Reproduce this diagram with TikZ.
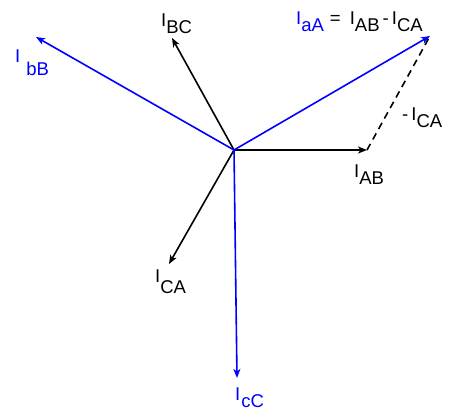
\documentclass[tikz,border=0pt]{standalone}
\usepackage{fontspec}
\setmainfont{Liberation Sans}
\usetikzlibrary{arrows.meta}
\newcommand{\Isub}[2][7pt]{I\raisebox{-#1}{#2}}
\tikzset{
  phasor/.style={line width=1.6pt, -{Stealth[length=9pt,width=7pt,inset=2.5pt]}},
  lbl/.style={inner sep=0pt, anchor=base west, font=\fontsize{18.5}{21}\selectfont}
}
\begin{document}
\begin{tikzpicture}[x=1pt,y=-1pt]
\useasboundingbox (0,0) rectangle (457,412);
% origin and phasor tips
\coordinate (o) at (234,150);
\coordinate (ab) at (367,150);
\coordinate (bc) at (172,38);
\coordinate (ca) at (169,264);
\coordinate (aA) at (430,36);
\coordinate (bB) at (36,37);
\coordinate (cC) at (237,378);
% line currents
\draw[phasor] (o) -- (ab);
\draw[phasor] (o) -- (bc);
\draw[phasor] (o) -- (ca);
\draw[dashed, dash pattern=on 7pt off 5pt, line width=1.6pt] (ab) -- (aA);
% phase currents
\draw[phasor, blue] (o) -- (aA);
\draw[phasor, blue] (o) -- (bB);
\draw[phasor, blue] (o) -- (cC);
% labels
\node[lbl] (eq) at (296,25) {{\color{blue}\Isub{aA}}\hspace{6pt}=\hspace{9pt}\Isub{AB}\,-\,\Isub{CA}};
\node[lbl] (mca) at (402,120) {-\,\Isub{CA}};
\node[lbl] (lab) at (354,177) {\Isub{AB}};
\node[lbl] (lbc) at (161,27) {\Isub{BC}};
\node[lbl] (lca) at (155,282) {\Isub[11pt]{CA}};
\node[lbl, blue] (lbB) at (15,63) {\Isub[13pt]{\hspace{6pt}bB}};
\node[lbl, blue] (lcC) at (235,400) {\Isub{\hspace{1pt}cC}};
\end{tikzpicture}
\end{document}
